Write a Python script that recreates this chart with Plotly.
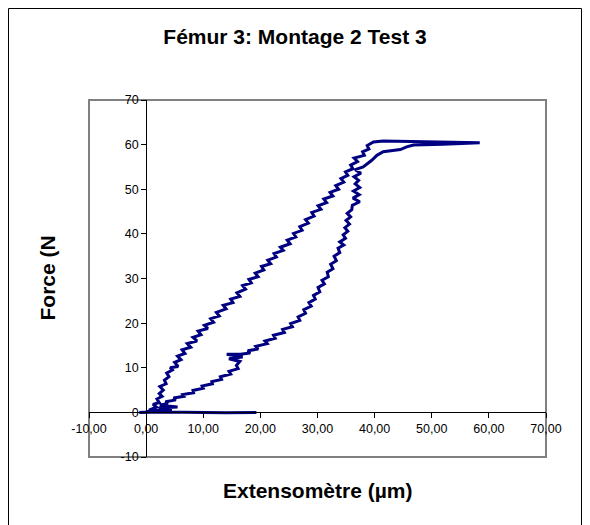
import plotly.graph_objects as go

# Extensomètre (µm) / Force (N), in drawing order
extenso = [
    0.0, 1.0, 0.5, 1.8, 1.2, 2.3, 1.9, 2.8, 2.3, 3.0, 2.4, 3.5, 3.2, 4.0, 3.6, 4.6, 4.2, 5.6, 5.0, 6.1,
    5.5, 6.8, 6.3, 7.8, 7.2, 8.9, 8.2, 9.6, 9.1, 10.8, 10.2, 11.8, 11.3, 12.8, 12.3, 14.0, 13.5, 15.2, 14.8, 16.4,
    15.9, 17.4, 16.9, 18.4, 18.0, 19.6, 19.1, 20.6, 20.2, 21.8, 21.3, 22.8, 22.4, 24.0, 23.5, 25.2, 24.7, 26.2, 25.8, 27.3,
    26.9, 28.4, 27.9, 29.4, 29.0, 30.6, 30.1, 31.6, 31.1, 32.7, 32.2, 33.7, 33.2, 34.6, 34.1, 35.3, 34.9, 36.2, 35.8, 37.0,
    36.4, 38.2, 37.9, 39.0, 38.7, 39.8, 41.5, 48.0, 55.0, 58.4,
    52.0, 46.8, 45.6, 44.5, 41.5, 40.4, 39.5, 38.4,
    38.0, 36.6, 37.6, 36.4, 37.2, 36.6, 37.4, 36.3, 37.3, 36.2, 37.4, 36.1, 36.0, 35.2, 35.8, 35.0, 35.6, 34.8, 35.3, 34.5,
    34.9, 33.9, 34.6, 33.6, 33.9, 32.9, 33.3, 32.3, 32.7, 31.7, 31.9, 30.8, 31.2, 30.1, 30.4, 29.3, 29.6, 28.5, 28.9, 27.6,
    27.9, 26.6, 26.9, 25.3, 25.6, 23.9, 24.2, 22.3, 22.6, 20.8, 21.2, 19.2, 19.6, 17.8, 18.2, 16.5, 14.1, 16.9, 14.5, 16.4,
    15.8, 16.1, 14.5, 14.8, 13.0, 13.2, 11.5, 11.6, 9.8, 10.0, 8.2, 8.3, 6.4, 6.6, 4.8, 5.2, 3.4, 3.8, 2.4, 5.5,
    2.2, 4.5, 1.0, 0.0, -1.2, 3.0, 8.0, 14.0, 19.3,
]
force = [
    0.0, 0.3, 0.5, 1.2, 1.8, 2.2, 3.0, 3.6, 4.2, 5.0, 5.8, 6.4, 7.2, 8.0, 8.8, 9.5, 10.0, 10.3, 11.2, 11.8,
    12.6, 13.2, 14.0, 14.6, 15.4, 16.0, 16.8, 17.4, 18.2, 18.8, 19.5, 20.2, 21.0, 21.6, 22.4, 23.2, 24.0, 24.6, 25.4, 26.0,
    26.8, 27.6, 28.4, 29.0, 29.8, 30.4, 31.2, 31.9, 32.7, 33.3, 34.1, 34.8, 35.6, 36.3, 37.0, 37.8, 38.6, 39.3, 40.1, 40.8,
    41.6, 42.4, 43.2, 44.0, 44.8, 45.5, 46.3, 47.0, 47.8, 48.5, 49.3, 50.0, 50.8, 51.6, 52.4, 53.1, 53.9, 54.6, 55.4, 56.2,
    57.0, 57.6, 58.4, 59.0, 59.8, 60.6, 60.8, 60.7, 60.5, 60.4,
    60.1, 59.9, 59.5, 58.9, 58.4, 57.6, 56.5, 55.5,
    55.0, 54.4, 53.6, 52.8, 52.0, 51.2, 50.4, 49.6, 48.8, 48.0, 47.2, 46.4, 45.4, 44.6, 43.8, 43.0, 42.2, 41.4, 40.6, 39.8,
    39.0, 38.2, 37.5, 36.8, 35.8, 35.0, 34.0, 33.2, 32.2, 31.4, 30.4, 29.6, 28.8, 28.0, 27.0, 26.2, 25.4, 24.6, 23.8, 23.0,
    22.2, 21.4, 20.6, 19.9, 19.2, 18.6, 17.9, 17.3, 16.6, 16.0, 15.4, 14.8, 14.2, 13.8, 13.3, 13.0, 13.0, 12.4, 12.0, 11.4,
    10.5, 9.8, 9.2, 8.6, 8.0, 7.4, 6.9, 6.4, 5.9, 5.4, 4.9, 4.4, 4.0, 3.6, 3.2, 2.8, 2.4, 2.0, 1.6, 1.2,
    1.0, 0.6, 0.4, 0.1, 0.0, 0.1, 0.0, -0.1, 0.0,
]

x_ticks = [-10, 0, 10, 20, 30, 40, 50, 60, 70]
y_ticks = [-10, 0, 10, 20, 30, 40, 50, 60, 70]
x_tick_labels = [f"{v:.2f}".replace(".", ",") for v in x_ticks]
y_tick_labels = [str(v) for v in y_ticks]

title_text = "Fémur 3: Montage 2 Test 3"
x_title = "Extensomètre (µm)"
y_title = "Force (N"

FONT = "Liberation Sans, Arial, sans-serif"
# the page body has an 8px margin; the figure is sized to fill the rest of the window
W, H = 582, 517
L, R, T, B = 81, 44, 92, 68
pw, ph = W - L - R, H - T - B

def px_x(p):
    return (p - L) / pw

def px_y(p):
    return (H - B - p) / ph

fig = go.Figure()
fig.add_trace(go.Scatter(
    x=extenso, y=force, mode="lines",
    line=dict(color="#000080", width=3),
    hoverinfo="skip", showlegend=False,
))

xr = [x_ticks[0], x_ticks[-1]]
yr = [y_ticks[0], y_ticks[-1]]
x_axis_pos = (0 - yr[0]) / (yr[1] - yr[0])
y_axis_pos = (0 - xr[0]) / (xr[1] - xr[0])

fig.update_layout(
    width=W, height=H,
    margin=dict(l=L, r=R, t=T, b=B),
    paper_bgcolor="white", plot_bgcolor="white",
    font=dict(family=FONT, color="black"),
    xaxis=dict(
        range=xr, tickvals=x_ticks, ticktext=x_tick_labels,
        ticks="outside", ticklen=5, tickcolor="black", tickwidth=1,
        showline=True, linecolor="black", linewidth=1,
        showgrid=False, zeroline=False,
        anchor="free", position=x_axis_pos,
        tickfont=dict(family=FONT, size=12.5, color="black"),
    ),
    yaxis=dict(
        range=yr, tickvals=y_ticks, ticktext=y_tick_labels,
        ticks="outside", ticklen=5, tickcolor="black", tickwidth=1,
        showline=True, linecolor="black", linewidth=1,
        showgrid=False, zeroline=False,
        anchor="free", position=y_axis_pos,
        tickfont=dict(family=FONT, size=12.5, color="black"),
    ),
    title=dict(
        text=f"<b>{title_text}</b>", xref="container", x=287 / W, xanchor="center",
        yref="container", y=1 - 29 / H, yanchor="middle",
        font=dict(family=FONT, size=21, color="black"),
    ),
    shapes=[
        dict(type="rect", xref="paper", yref="paper", x0=0, x1=1, y0=0, y1=1,
             line=dict(color="#808080", width=2), layer="below"),
        dict(type="rect", xref="paper", yref="paper",
             x0=px_x(0.5), x1=px_x(573.5), y0=px_y(540), y1=px_y(0.5),
             line=dict(color="black", width=1), layer="below"),
    ],
    annotations=[
        dict(text=f"<b>{x_title}</b>", xref="paper", yref="paper",
             x=0.5, y=px_y(482), xanchor="center", yanchor="middle", showarrow=False,
             font=dict(family=FONT, size=21, color="black")),
        dict(text=f"<b>{y_title}</b>", xref="paper", yref="paper",
             x=px_x(39), y=0.5, xanchor="center", yanchor="middle", showarrow=False,
             textangle=-90, font=dict(family=FONT, size=21, color="black")),
    ],
)

fig.write_html("out.html", config={"displayModeBar": False})
